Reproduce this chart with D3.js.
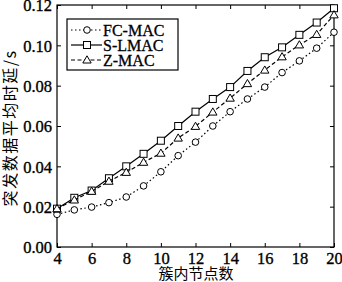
<!DOCTYPE html>
<html>
<head>
<meta charset="utf-8">
<script src="https://cdn.jsdelivr.net/npm/d3@7"></script>
<style>
  body { margin: 0; background: #fff; }
  svg { display: block; }
  text { font-family: "Liberation Serif", "Times New Roman", serif; fill: #000; }
</style>
</head>
<body>
<svg id="chart" width="342" height="282"></svg>
<script>
// data
var nodes = [4, 5, 6, 7, 8, 9, 10, 11, 12, 13, 14, 15, 16, 17, 18, 19, 20];
var fcMac = [0.0162, 0.0184, 0.0198, 0.0220, 0.0248, 0.0303, 0.0373, 0.0453, 0.0520, 0.0600, 0.0671, 0.0734, 0.0793, 0.0865, 0.0923, 0.0986, 0.1065];
var sLmac = [0.0190, 0.0244, 0.0280, 0.0341, 0.0400, 0.0462, 0.0527, 0.0600, 0.0671, 0.0734, 0.0793, 0.0873, 0.0941, 0.0990, 0.1052, 0.1113, 0.1184];
var zMac = [0.0190, 0.0233, 0.0276, 0.0326, 0.0370, 0.0420, 0.0465, 0.0540, 0.0598, 0.0669, 0.0738, 0.0810, 0.0877, 0.0943, 0.1002, 0.1054, 0.1151];
var xTicks = [4, 6, 8, 10, 12, 14, 16, 18, 20];
var yTicks = [0, 0.02, 0.04, 0.06, 0.08, 0.10, 0.12];
var seriesNames = ["FC-MAC", "S-LMAC", "Z-MAC"];

var svg = d3.select("svg#chart");
var margin = {top: 5, right: 8, bottom: 35, left: 57},
    width = 334 - margin.left,
    height = 247 - margin.top;

var g = svg.append("g")
    .attr("transform", "translate(" + margin.left + "," + margin.top + ")");

var x = d3.scaleLinear().domain([4, 20]).range([0, width]);
var y = d3.scaleLinear().domain([0, 0.12]).range([height, 0]);

// axes, ticks pointing inward on all four sides
function styleAxis(sel) {
    sel.select(".domain").remove();
    sel.selectAll("line").attr("stroke", "#000").attr("stroke-width", 1);
    sel.selectAll("text")
        .style("font-size", "16.5px")
        .attr("stroke", "#000").attr("stroke-width", 0.35);
}
g.append("g")
    .attr("transform", "translate(0," + height + ")")
    .call(d3.axisBottom(x).tickValues(xTicks).tickSizeInner(-4).tickSizeOuter(0).tickPadding(5))
    .call(styleAxis);
g.append("g")
    .call(d3.axisLeft(y).tickValues(yTicks).tickSizeInner(-4).tickSizeOuter(0).tickPadding(5)
        .tickFormat(d3.format(".2f")))
    .call(styleAxis)
    .selectAll("text").attr("dy", "0.35em");
g.append("g")
    .call(d3.axisTop(x).tickValues(xTicks).tickSizeInner(-4).tickSizeOuter(0).tickFormat(""))
    .call(styleAxis);
g.append("g")
    .attr("transform", "translate(" + width + ",0)")
    .call(d3.axisRight(y).tickValues(yTicks).tickSizeInner(-4).tickSizeOuter(0).tickFormat(""))
    .call(styleAxis);

g.append("rect")
    .attr("width", width).attr("height", height)
    .attr("fill", "none").attr("stroke", "#000").attr("stroke-width", 1.2);

// series
var series = [
    {name: seriesNames[0], values: fcMac, dash: "1.5,2.5", marker: "circle"},
    {name: seriesNames[1], values: sLmac, dash: null, marker: "square"},
    {name: seriesNames[2], values: zMac, dash: "4,2.5", marker: "triangle"}
];

var line = d3.line()
    .x(function (d, i) { return x(nodes[i]); })
    .y(function (d) { return y(d); });

function drawMarker(sel, type) {
    if (type === "circle") {
        sel.append("circle").attr("r", 3.3);
    } else if (type === "square") {
        sel.append("rect").attr("x", -3.5).attr("y", -3.5).attr("width", 7).attr("height", 7);
    } else {
        sel.append("path").attr("d", "M0,-4.2L4.2,3L-4.2,3Z");
    }
    sel.selectAll("*").attr("fill", "#fff").attr("stroke", "#000").attr("stroke-width", 1);
}

series.forEach(function (s) {
    g.append("path")
        .datum(s.values)
        .attr("d", line)
        .attr("fill", "none")
        .attr("stroke", "#000")
        .attr("stroke-width", 1.2)
        .attr("stroke-dasharray", s.dash);
    g.selectAll(".m-" + s.marker)
        .data(s.values)
        .enter()
        .append("g")
        .attr("class", "m-" + s.marker)
        .attr("transform", function (d, i) { return "translate(" + x(nodes[i]) + "," + y(d) + ")"; })
        .each(function () { drawMarker(d3.select(this), s.marker); });
});

// legend
var legend = svg.append("g").attr("transform", "translate(67,19)");
legend.append("rect")
    .attr("width", 111).attr("height", 51)
    .attr("fill", "#fff").attr("stroke", "#000").attr("stroke-width", 1.2);
series.forEach(function (s, i) {
    var row = legend.append("g").attr("transform", "translate(0," + (11 + i * 15) + ")");
    row.append("line")
        .attr("x1", 4).attr("x2", 35).attr("y1", 0).attr("y2", 0)
        .attr("stroke", "#000").attr("stroke-width", 1.2)
        .attr("stroke-dasharray", s.dash);
    drawMarker(row.append("g").attr("transform", "translate(20,0)"), s.marker);
    row.append("text")
        .attr("x", 36).attr("y", 0).attr("dy", "0.35em")
        .style("font-size", "16px")
        .attr("stroke", "#000").attr("stroke-width", 0.3)
        .text(s.name);
});

// axis titles
svg.append("text")
    .attr("x", 196).attr("y", 274).attr("dy", "0.35em")
    .attr("text-anchor", "middle")
    .style("font-family", "'Noto Sans CJK SC', serif")
    .style("font-size", "15px")
    .text("簇内节点数");
svg.append("text")
    .attr("transform", "translate(10.5,128)rotate(-90)")
    .attr("text-anchor", "middle")
    .attr("dy", "0.35em")
    .style("font-family", "'Noto Sans CJK SC', serif")
    .style("font-size", "16px")
    .style("letter-spacing", "1.5px")
    .text("突发数据平均时延/s");
</script>
</body>
</html>
